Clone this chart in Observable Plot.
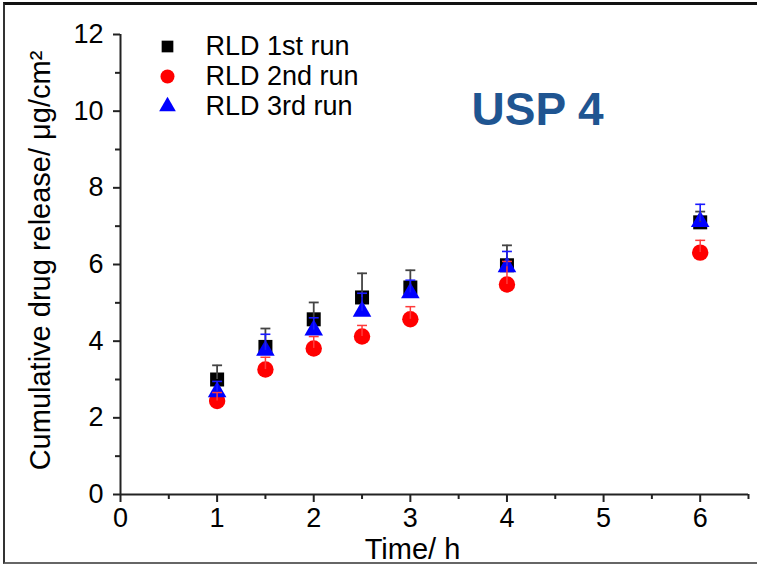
<!DOCTYPE html>
<html>
<head>
<meta charset="utf-8">
<script src="https://cdn.jsdelivr.net/npm/d3@7"></script>
<script src="https://cdn.jsdelivr.net/npm/@observablehq/plot@0.6"></script>
<style>
  html, body { margin: 0; padding: 0; background: #fff; }
  #wrap { position: relative; width: 757px; height: 564px; overflow: hidden; }
  #edge {
    position: absolute; left: 3px; top: 2px; width: 780px; height: 557px;
    border-top: 3px solid #111; border-left: 2px solid #333; border-bottom: 2px solid #666;
    pointer-events: none;
  }
</style>
</head>
<body>
<div id="wrap"><div id="edge"></div></div>
<script>
// Sampling times (h)
const time = [1, 1.5, 2, 2.5, 3, 4, 6];

// Cumulative drug release (µg/cm²), mean and SD per run
const run1Mean = [3.00, 3.85, 4.57, 5.14, 5.40, 5.98, 7.10];
const run1Sd   = [0.37, 0.48, 0.44, 0.63, 0.45, 0.52, 0.28];
const run2Mean = [2.44, 3.26, 3.81, 4.12, 4.57, 5.48, 6.31];
const run2Sd   = [0.22, 0.32, 0.31, 0.29, 0.33, 0.60, 0.32];
const run3Mean = [2.68, 3.76, 4.29, 4.78, 5.26, 5.94, 7.12];
const run3Sd   = [0.27, 0.42, 0.32, 0.47, 0.33, 0.40, 0.45];

const runNames = ["RLD 1st run", "RLD 2nd run", "RLD 3rd run"];

// Axis ticks
const xMajor = [0, 1, 2, 3, 4, 5, 6];
const xMinor = [0.5, 1.5, 2.5, 3.5, 4.5, 5.5, 6.5];
const yMajor = [0, 2, 4, 6, 8, 10, 12];
const yMinor = [1, 3, 5, 7, 9, 11];

const rows = (mean, sd) => time.map((t, i) => ({t, mean: mean[i], top: mean[i] + sd[i]}));
const r1 = rows(run1Mean, run1Sd);
const r2 = rows(run2Mean, run2Sd);
const r3 = rows(run3Mean, run3Sd);

// horizontal cap drawn as a symbol
const cap = {draw(ctx, size) { const w = Math.sqrt(size) / 2; ctx.moveTo(-w, 0); ctx.lineTo(w, 0); }};

const font = "'Liberation Sans', Arial, sans-serif";
const axisColor = "#222";

function errorBars(data, color, width) {
  return [
    Plot.ruleX(data, {x: "t", y1: "mean", y2: "top", stroke: color, strokeWidth: width}),
    Plot.dot(data, {x: "t", y: "top", symbol: cap, r: 5.6, stroke: color, strokeWidth: width, fill: "none"})
  ];
}

function legendRow(i, symbol, r, color) {
  const dy = 12 + 30 * i;
  return [
    Plot.dot([runNames[i]], {frameAnchor: "top-left", dx: 47, dy, symbol, r, fill: color}),
    Plot.text([runNames[i]], {text: d => d, frameAnchor: "top-left", dx: 85, dy, textAnchor: "start",
      lineAnchor: "middle", fontSize: 27, fill: "#000"})
  ];
}

const chart = Plot.plot({
  width: 757,
  height: 564,
  marginLeft: 120,
  marginRight: 9,
  marginTop: 34,
  marginBottom: 70,
  style: {fontFamily: font, background: "transparent", color: "#000"},
  x: {domain: [0, 6.5]},
  y: {domain: [0, 12]},
  marks: [
    // axes
    Plot.axisX({ticks: xMajor, tickSize: 8, tickPadding: 5, fontSize: 27, label: null, stroke: axisColor, strokeWidth: 2, tickFormat: d3.format("d")}),
    Plot.axisX({ticks: xMinor, tickSize: 5, tickFormat: () => "", label: null, stroke: axisColor, strokeWidth: 2}),
    Plot.axisY({ticks: yMajor, tickSize: 7, tickPadding: 10, fontSize: 27, label: null, stroke: axisColor, strokeWidth: 2, tickFormat: d3.format("d")}),
    Plot.axisY({ticks: yMinor, tickSize: 5, tickFormat: () => "", label: null, stroke: axisColor, strokeWidth: 2}),
    Plot.ruleY([0], {x1: 0, x2: 6.5, stroke: axisColor, strokeWidth: 2}),
    Plot.ruleX([0], {y1: 0, y2: 12, stroke: axisColor, strokeWidth: 2}),

    // axis titles
    Plot.text(["Cumulative drug release/ μg/cm²"], {text: d => d, frameAnchor: "left", dx: -80, dy: -4, rotate: -90,
      textAnchor: "middle", lineAnchor: "middle", fontSize: 29, fill: "#000"}),
    Plot.text(["Time/ h"], {text: d => d, frameAnchor: "bottom", dx: -22, dy: 64, textAnchor: "middle",
      lineAnchor: "bottom", fontSize: 29, fill: "#000"}),

    // data symbols
    Plot.dot(r1, {x: "t", y: "mean", symbol: "square", r: 7.9, fill: "#000"}),
    Plot.dot(r2, {x: "t", y: "mean", symbol: "circle", r: 8.2, fill: "#ff0000"}),
    Plot.dot(r3, {x: "t", y: "mean", symbol: "triangle", r: 6.9, fill: "#0000ff"}),

    // upper error bars
    ...errorBars(r1, "#444", 1.8),
    ...errorBars(r2, "#ff3b3b", 1.5),
    ...errorBars(r3, "#1a1aff", 1.6),

    // legend
    ...legendRow(0, "square", 6.6, "#000"),
    ...legendRow(1, "circle", 7, "#ff0000"),
    ...legendRow(2, "triangle", 6.2, "#0000ff"),

    // panel title
    Plot.text(["USP 4"], {text: d => d, frameAnchor: "top-left", dx: 351, dy: 90, textAnchor: "start",
      lineAnchor: "bottom", fontSize: 46, fontWeight: "bold", fill: "#1f5591"})
  ]
});

document.getElementById("wrap").prepend(chart);
</script>
</body>
</html>
